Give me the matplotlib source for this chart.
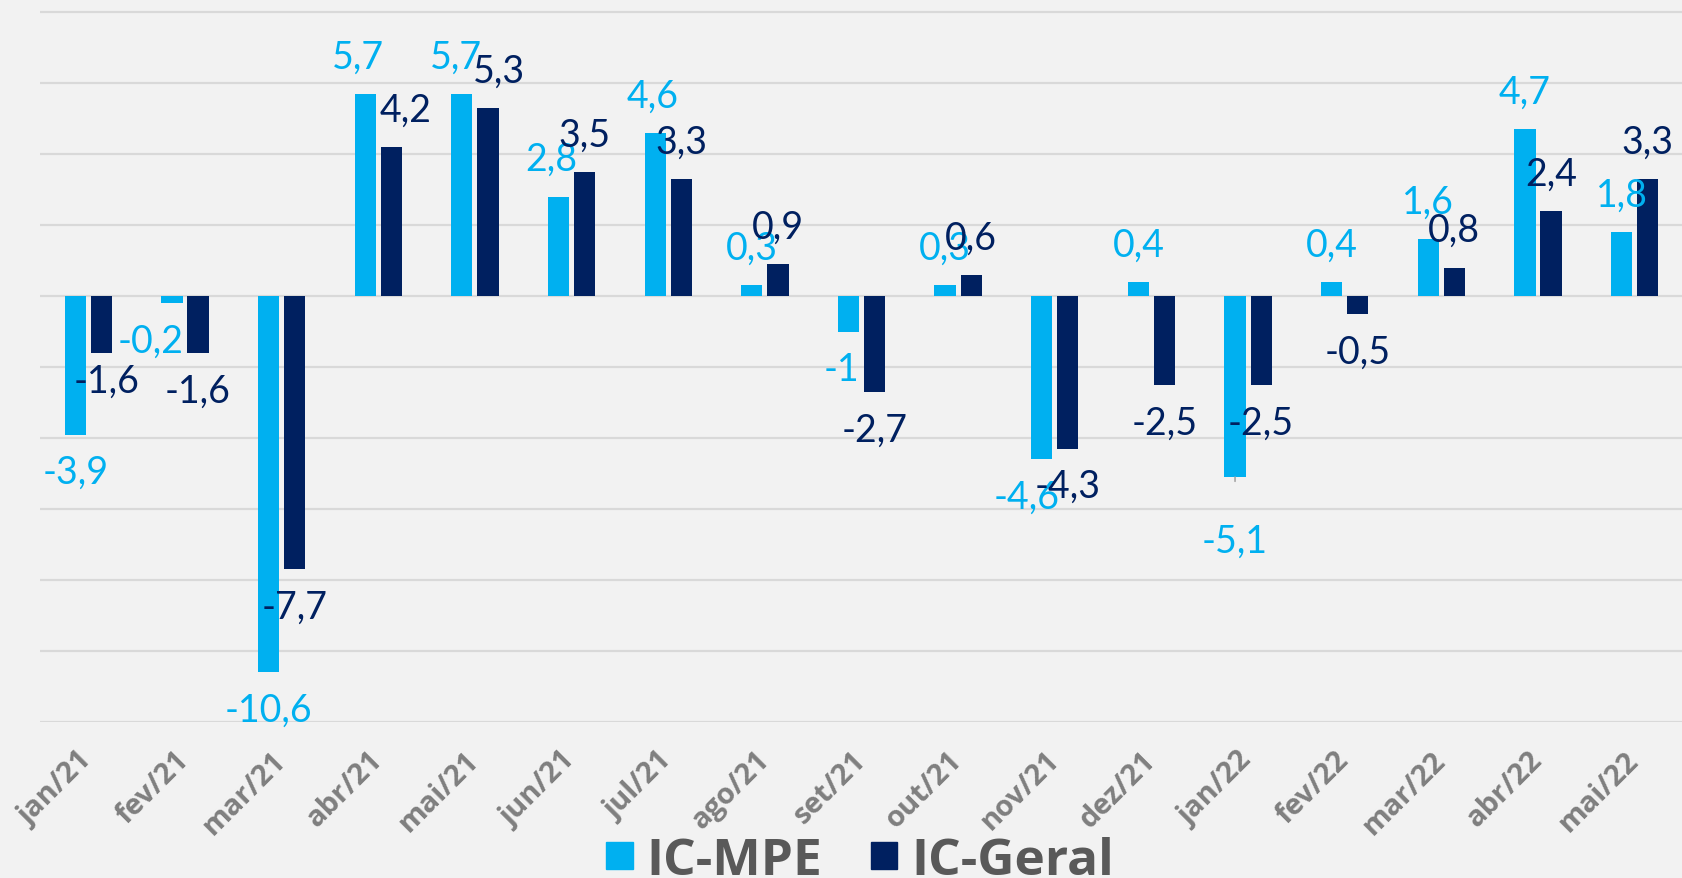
import numpy as np
import matplotlib.pyplot as plt
from matplotlib.patches import Patch

# Meses e valores dos indices
meses = ['jan/21', 'fev/21', 'mar/21', 'abr/21', 'mai/21', 'jun/21', 'jul/21', 'ago/21', 'set/21',
         'out/21', 'nov/21', 'dez/21', 'jan/22', 'fev/22', 'mar/22', 'abr/22', 'mai/22']
ic_mpe = [-3.9, -0.2, -10.6, 5.7, 5.7, 2.8, 4.6, 0.3, -1, 0.3, -4.6, 0.4, -5.1, 0.4, 1.6, 4.7, 1.8]
ic_geral = [-1.6, -1.6, -7.7, 4.2, 5.3, 3.5, 3.3, 0.9, -2.7, 0.6, -4.3, -2.5, -2.5, -0.5, 0.8, 2.4, 3.3]

# Deslocamentos dos rotulos (pontos), como no grafico original
dx_mpe = [0, -15, 0, -5, -4, -5, -2, 0, -5, 0, -11, 0, 0, 0, 0, 0, 0]
dy_mpe = [0, 0, 0, 0, 0, 0, 0, 0, 0, 0, 0, 0, 19, 0, 0, 0, 0]
dx_geral = [4, 0, 0, 10, 8, 0, 0, 0, 0, 0, 0, 0, 0, 0, 0, 0, 0]
dy_geral = [-7, 0, 0, 0, 0, 0, 0, 0, 0, 0, 0, 0, 0, 0, 0, 0, 0]

cor_mpe = '#00b0f0'
cor_geral = '#002060'
fundo = '#f2f2f2'

plt.rcParams['font.family'] = ['Lato', 'DejaVu Sans']

fig = plt.figure(figsize=(16.83, 8.79), dpi=100, facecolor=fundo)
ax = fig.add_axes([40 / 1683, 1 - 723 / 879, 1 - 40 / 1683, 723 / 879])
ax.set_facecolor(fundo)

x = np.arange(len(meses))
larg = 0.22
desl = 0.135
ax.bar(x - desl, ic_mpe, larg, color=cor_mpe, zorder=3)
ax.bar(x + desl, ic_geral, larg, color=cor_geral, zorder=3)

ax.set_ylim(-12, 8.37)
ax.set_xlim(-0.5, len(meses) - 0.5)
ax.set_yticks(np.arange(-12, 9, 2))
ax.yaxis.grid(True, color='#d9d9d9', lw=1.6, zorder=0)
ax.tick_params(axis='y', left=False, labelleft=False)
ax.tick_params(axis='x', length=0, pad=24)
for s in ax.spines.values():
    s.set_visible(False)

ax.set_xticks(x)
ax.set_xticklabels(meses, rotation=45, ha='right', va='center', rotation_mode='anchor',
                   fontsize=21, fontweight='bold', color='#7f7f7f', family=['Open Sans', 'DejaVu Sans'])


def fmt(v):
    return ('%g' % v).replace('.', ',')


def rotular(serie, off, dxs, dys, cor):
    for i, v in enumerate(serie):
        sinal = 1 if v >= 0 else -1
        props = None
        if dys[i] > 10:
            props = dict(arrowstyle='-', color='#a6a6a6', lw=1.2, shrinkA=28, shrinkB=0)
        ax.annotate(fmt(v), (i + off, v), xytext=(dxs[i], sinal * (27 + dys[i])),
                    textcoords='offset points', ha='center', va='center',
                    fontsize=27, color=cor, zorder=5, arrowprops=props)


rotular(ic_mpe, -desl, dx_mpe, dy_mpe, cor_mpe)
rotular(ic_geral, desl, dx_geral, dy_geral, cor_geral)

handles = [Patch(color=cor_mpe, label='IC-MPE'), Patch(color=cor_geral, label='IC-Geral')]
leg = fig.legend(handles=handles, loc='lower center', bbox_to_anchor=(860 / 1683, -0.009), ncol=2,
                 frameon=False, handlelength=0.52, handleheight=0.423, handletextpad=0.27,
                 columnspacing=0.94, borderaxespad=0, borderpad=0,
                 prop={'size': 37, 'weight': 'bold', 'family': ['Open Sans', 'DejaVu Sans']})
for t in leg.get_texts():
    t.set_color('#595959')

fig.savefig('out.png', dpi=100, facecolor=fundo)
